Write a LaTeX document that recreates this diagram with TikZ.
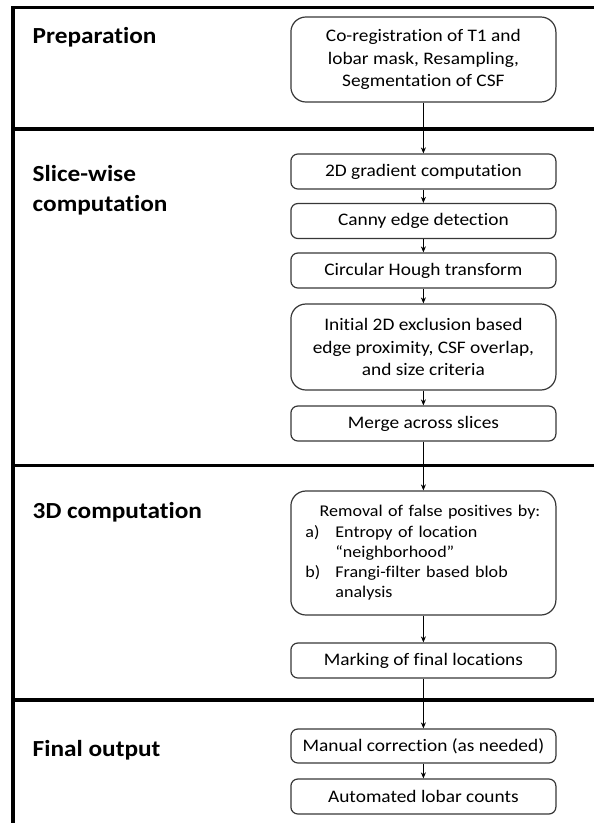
\documentclass[tikz,border=0pt]{standalone}
\usepackage{fontspec}
\setmainfont{Carlito}[FakeStretch=1.1, Ligatures=NoCommon]
\usetikzlibrary{arrows.meta}
\definecolor{boxline}{RGB}{55,55,55}
\tikzset{
  frame/.style={line width=3.8pt, black},
  stepbox/.style={draw=boxline, line width=1.2pt, rounded corners=7pt, minimum width=265pt, inner sep=0pt, align=center, font=\fontsize{17.6}{22.5}\selectfont},
  bigbox/.style={stepbox, rounded corners=15pt},
  sect/.style={anchor=west, align=left, font=\fontsize{23}{30}\selectfont\bfseries, inner sep=0pt},
  conn/.style={line width=1pt, -{Stealth[length=6pt,width=5pt]}}
}
\begin{document}
\begin{tikzpicture}[x=1pt,y=-1pt]
\useasboundingbox (0,0) rectangle (594,823);
\begin{scope}
\clip (0,0) rectangle (594,823);
\draw[frame] (600,7.5) -- (13,7.5) -- (13,830);
\draw[frame] (13,129) -- (600,129);
\draw[frame] (13,465.5) -- (600,465.5);
\draw[frame] (13,700) -- (600,700);
\end{scope}
\node[sect] (lprep) at (32.5,37) {Preparation};
\node[sect] (lslice) at (32.5,190) {Slice-wise\\computation};
\node[sect] (l3d) at (32.5,512) {3D computation};
\node[sect] (lfinal) at (32.5,750) {Final output};

\node[bigbox, minimum height=85pt] (prep) at (423.4,59.5) {Co-registration of T1 and\\lobar mask, Resampling,\\Segmentation of CSF};
\node[stepbox, minimum height=35pt] (grad) at (423.4,171.5) {2D gradient computation};
\node[stepbox, minimum height=35pt] (canny) at (423.4,221) {Canny edge detection};
\node[stepbox, minimum height=35pt] (hough) at (423.4,270.5) {Circular Hough transform};
\node[bigbox, minimum height=86pt] (init) at (423.4,347) {Initial 2D exclusion based\\edge proximity, CSF overlap,\\and size criteria};
\node[stepbox, minimum height=35pt] (merge) at (423.4,423.5) {Merge across slices};
\node[bigbox, minimum height=124pt, text width=236pt, align=left, font=\fontsize{16.4}{20.2}\selectfont] (removal) at (423.4,553) {\hspace*{14.3pt}Removal of false positives by:\\\makebox[30pt][l]{a)}Entropy of location\\\hspace*{30pt}“neighborhood”\\\makebox[30pt][l]{b)}Frangi-filter based blob\\\hspace*{30pt}analysis};
\node[stepbox, minimum height=35pt] (mark) at (423.4,660.5) {Marking of final locations};
\node[stepbox, minimum height=34pt] (manual) at (423.4,746) {Manual correction (as needed)};
\node[stepbox, minimum height=35pt] (auto) at (423.4,796.5) {Automated lobar counts};

\draw[conn] (prep) -- (grad);
\draw[conn] (grad) -- (canny);
\draw[conn] (canny) -- (hough);
\draw[conn] (hough) -- (init);
\draw[conn] (init) -- (merge);
\draw[conn] (merge) -- (removal);
\draw[conn] (removal) -- (mark);
\draw[conn] (mark) -- (manual);
\draw[conn] (manual) -- (auto);
\end{tikzpicture}
\end{document}
